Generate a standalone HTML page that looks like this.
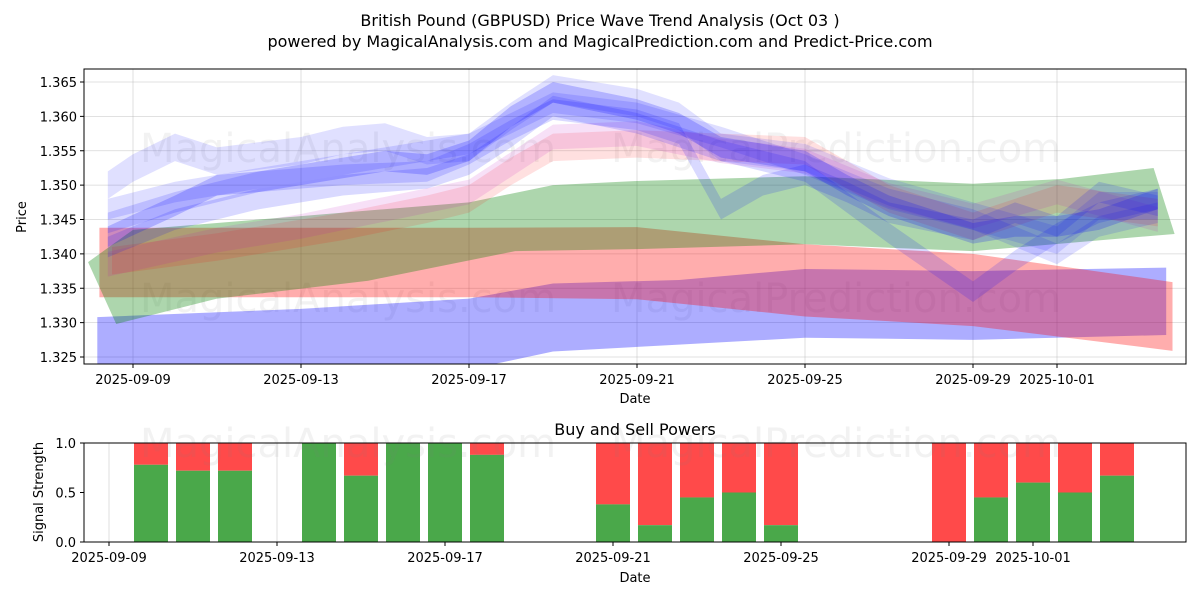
<!DOCTYPE html>
<html><head><meta charset="utf-8"><style>
body{margin:0;background:#fff;}
svg text{font-family:"DejaVu Sans","Liberation Sans",sans-serif;}
</style></head><body>
<svg id="chart" width="1200" height="600" xmlns="http://www.w3.org/2000/svg">
<rect x="0" y="0" width="1200" height="600" fill="#fff"/>
<text x="600" y="26" text-anchor="middle" font-size="16">British Pound (GBPUSD) Price Wave Trend Analysis (Oct 03 )</text>
<text x="600" y="47" text-anchor="middle" font-size="16">powered by MagicalAnalysis.com and MagicalPrediction.com and Predict-Price.com</text>
<g id="topPanel"></g>
<g id="botPanel"></g>
</svg>
<script>
const NS='http://www.w3.org/2000/svg';
// x-axis ticks (day offset from 2025-09-09)
const xTickDays=[0,4,8,12,16,20,22];
const xTickLabels=['2025-09-09','2025-09-13','2025-09-17','2025-09-21','2025-09-25','2025-09-29','2025-10-01'];
const yTicks=[1.325,1.330,1.335,1.340,1.345,1.350,1.355,1.360,1.365];
const yTickLabels=['1.325','1.330','1.335','1.340','1.345','1.350','1.355','1.360','1.365'];
// solid bands
const blueBandDays=[-0.85,4,8,10,13,16,20,24.6];
const blueBandUpper=[1.3308,1.332,1.3335,1.3357,1.3362,1.3378,1.3375,1.338];
const blueBandLower=[1.3235,1.3225,1.3232,1.3258,1.3268,1.3278,1.3275,1.3282];
const redBandDays=[-0.8,4,8,12,16,20,24.75];
const redBandUpper=[1.3438,1.3438,1.3438,1.3439,1.3414,1.340,1.3359];
const redBandLower=[1.3337,1.3337,1.3337,1.3334,1.3309,1.3295,1.3259];
const greenTopDays=[-1.07,0,4,8,10,12,16,20,22.1,24.3];
const greenTop=[1.3388,1.3435,1.3455,1.3475,1.350,1.3506,1.3513,1.3502,1.3509,1.3525];
const greenBotDays=[-0.4,2,5.6,9.1,12,16,20,24.8];
const greenBot=[1.3298,1.3335,1.3361,1.3404,1.3407,1.3414,1.3404,1.3429];
// translucent waves
const w1Days=[-0.6,1,2,3,5,6,7,8,9,10,12,13,14,16,17,18,20,21,22,23,24.4];
const w1Vals=[1.3425,1.347,1.350,1.3505,1.3525,1.3535,1.353,1.355,1.360,1.3635,1.361,1.359,1.3555,1.3535,1.350,1.347,1.343,1.344,1.344,1.345,1.348];
const w2Days=[-0.6,0,1,2,4,5,6,7,8,9,10,12,13,14,16,18,20,22,23,24.4];
const w2Vals=[1.350,1.3525,1.3555,1.3535,1.355,1.3565,1.357,1.355,1.3555,1.360,1.364,1.362,1.360,1.3555,1.354,1.349,1.3455,1.342,1.347,1.347];
const w3Days=[-0.6,1,3,5,7,8,9,10,12,13,14,15,16,17,18,20,21,22,23,24.4];
const w3Vals=[1.3445,1.3475,1.3505,1.3515,1.352,1.3545,1.358,1.361,1.3595,1.3575,1.3465,1.350,1.3515,1.349,1.346,1.3435,1.346,1.344,1.349,1.347];
const w4Days=[-0.6,1,3,5,7,8,9,10,12,14,16,18,20,21,22,23,24.4];
const w4Vals=[1.341,1.345,1.348,1.350,1.351,1.353,1.357,1.3615,1.359,1.355,1.352,1.343,1.3345,1.339,1.343,1.346,1.348];
const w5Days=[-0.6,1,3,5,7,8,9,10,12,14,16,18,20,21,22,23,24.4];
const w5Vals=[1.3465,1.349,1.351,1.353,1.355,1.356,1.359,1.362,1.3605,1.357,1.353,1.348,1.345,1.3425,1.340,1.344,1.346];
const p1Days=[-0.5,2,5,7,8,9,10,12,14,16,18,20,22,24.4];
const p1Vals=[1.339,1.341,1.344,1.3465,1.348,1.352,1.3555,1.356,1.3555,1.355,1.348,1.344,1.348,1.346];
const p2Days=[-0.6,2,4,6,8,9,10,12,14,16,18,20,22,24.4];
const p2Vals=[1.3385,1.342,1.344,1.3465,1.349,1.353,1.357,1.3575,1.355,1.3535,1.3485,1.3455,1.349,1.345];
// signal bars
const barDays=[1,2,3,5,6,7,8,9,12,13,14,15,16,20,21,22,23,24];
const buyVals=[0.78,0.72,0.72,1.0,0.67,1.0,1.0,0.88,0.38,0.17,0.45,0.5,0.17,0.0,0.45,0.6,0.5,0.67];

const DX=42;
const xs=d=>133+DX*d;
const xb=d=>109+DX*d;
const T={top:69,bot:364,left:84,right:1186};
const yv=v=>82+(1.365-v)/0.005*34.375;
const B={top:443,bot:542};
const yb=v=>542-v*99;
function mk(tag,attrs,parent){const e=document.createElementNS(NS,tag);for(const k in attrs)e.setAttribute(k,attrs[k]);parent.appendChild(e);return e;}
const topG=document.getElementById('topPanel'),botG=document.getElementById('botPanel');
yTicks.forEach((v,i)=>{
 const g=mk('line',{x1:T.left,x2:T.right,y1:yv(v),y2:yv(v),stroke:'#b0b0b0','stroke-width':0.8,'stroke-opacity':0.5},topG);
 
 
 const t=mk('text',{x:T.left-7,y:yv(v)+5,'text-anchor':'end','font-size':13},topG);t.textContent=yTickLabels[i];
 
 
 mk('line',{x1:T.left-4,x2:T.left,y1:yv(v),y2:yv(v),stroke:'#000'},topG);
});
[topG,botG].forEach((p,pi)=>{
 const y1=pi?B.top:T.top,y2=pi?B.bot:T.bot;
 const fx=pi?xb:xs;
 xTickDays.forEach((d,i)=>{
  const g=mk('line',{x1:fx(d),x2:fx(d),y1:y1,y2:y2,stroke:'#b0b0b0','stroke-width':0.8,'stroke-opacity':0.5},p);
  
  
  mk('line',{x1:fx(d),x2:fx(d),y1:y2,y2:y2+4,stroke:'#000'},p);
  const t=mk('text',{x:fx(d),y:y2+20,'text-anchor':'middle','font-size':13},p);t.textContent=xTickLabels[i];
  
  
 });
});
[[348,148,'MagicalAnalysis.com'],[836,148,'MagicalPrediction.com'],[348,298,'MagicalAnalysis.com'],[836,298,'MagicalPrediction.com']].forEach(w=>{
 const t=mk('text',{x:w[0],y:w[1]+14,'text-anchor':'middle','font-size':40,fill:'rgba(128,128,128,0.1)'},topG);t.textContent=w[2];
 
 
});
const cp=mk('clipPath',{id:'clipTop'},topG);mk('rect',{x:T.left,y:T.top,width:T.right-T.left,height:T.bot-T.top},cp);
function band(dU,up,dL,lo,fill,op,name){
 let pts=dU.map((d,i)=>xs(d)+','+yv(up[i]));
 for(let i=dL.length-1;i>=0;i--)pts.push(xs(dL[i])+','+yv(lo[i]));
 const p=mk('polygon',{points:pts.join(' '),fill:fill,'fill-opacity':op,'clip-path':'url(#clipTop)'},topG);
 
 
}
function wave(days,vals,hw,fill,op,name){
 band(days,vals.map(v=>v+hw),days,vals.map(v=>v-hw),fill,op,name);
}
band(blueBandDays,blueBandUpper,blueBandDays,blueBandLower,'#0000ff',0.32,'blue-band-low');
band(redBandDays,redBandUpper,redBandDays,redBandLower,'#ff0000',0.32,'red-band-low');
band(greenTopDays,greenTop,greenBotDays,greenBot,'#008000',0.32,'green-band');
wave(p1Days,p1Vals,0.002,'#ff0000',0.12,'pink-wave-1');
wave(p2Days,p2Vals,0.0018,'#c000c0',0.12,'pink-wave-2');
wave(w1Days,w1Vals,0.0015,'#0000ff',0.2,'blue-wave-1');
wave(w2Days,w2Vals,0.002,'#0000ff',0.12,'blue-wave-2');
wave(w3Days,w3Vals,0.0015,'#0000ff',0.15,'blue-wave-3');
wave(w4Days,w4Vals,0.0015,'#0000ff',0.15,'blue-wave-4');
wave(w5Days,w5Vals,0.0015,'#0000ff',0.13,'blue-wave-5');
const fr=mk('rect',{x:T.left,y:T.top,width:T.right-T.left,height:T.bot-T.top,fill:'none',stroke:'#000','stroke-width':1},topG);


let t;
t=mk('text',{x:635,y:403,'text-anchor':'middle','font-size':13},topG);t.textContent='Date';


t=mk('text',{x:0,y:0,'text-anchor':'middle','font-size':13,transform:'translate(26,217) rotate(-90)'},topG);t.textContent='Price';


[0,0.5,1.0].forEach((v,i)=>{
 mk('line',{x1:80,x2:84,y1:yb(v),y2:yb(v),stroke:'#000'},botG);
 const tt=mk('text',{x:76,y:yb(v)+5,'text-anchor':'end','font-size':13},botG);tt.textContent=['0.0','0.5','1.0'][i];
 
 
});
barDays.forEach((d,i)=>{
 const x=xb(d)-17,w=34;
 const r=mk('rect',{x:x,y:yb(1),width:w,height:yb(buyVals[i])-yb(1),fill:'#ff4a4a'},botG);
 
 
 const g=mk('rect',{x:x,y:yb(buyVals[i]),width:w,height:yb(0)-yb(buyVals[i]),fill:'#4aa84a'},botG);
 
 
});
[[348,'MagicalAnalysis.com'],[836,'MagicalPrediction.com']].forEach(w=>{
 const tt=mk('text',{x:w[0],y:457,'text-anchor':'middle','font-size':40,fill:'rgba(128,128,128,0.1)'},botG);tt.textContent=w[1];
 
 
});
const fb=mk('rect',{x:84,y:B.top,width:1102,height:B.bot-B.top,fill:'none',stroke:'#000'},botG);


t=mk('text',{x:635,y:435,'text-anchor':'middle','font-size':16},botG);t.textContent='Buy and Sell Powers';


t=mk('text',{x:635,y:582,'text-anchor':'middle','font-size':13},botG);t.textContent='Date';


t=mk('text',{x:0,y:0,'text-anchor':'middle','font-size':13,transform:'translate(43,492) rotate(-90)'},botG);t.textContent='Signal Strength';


</script>
</body></html>
